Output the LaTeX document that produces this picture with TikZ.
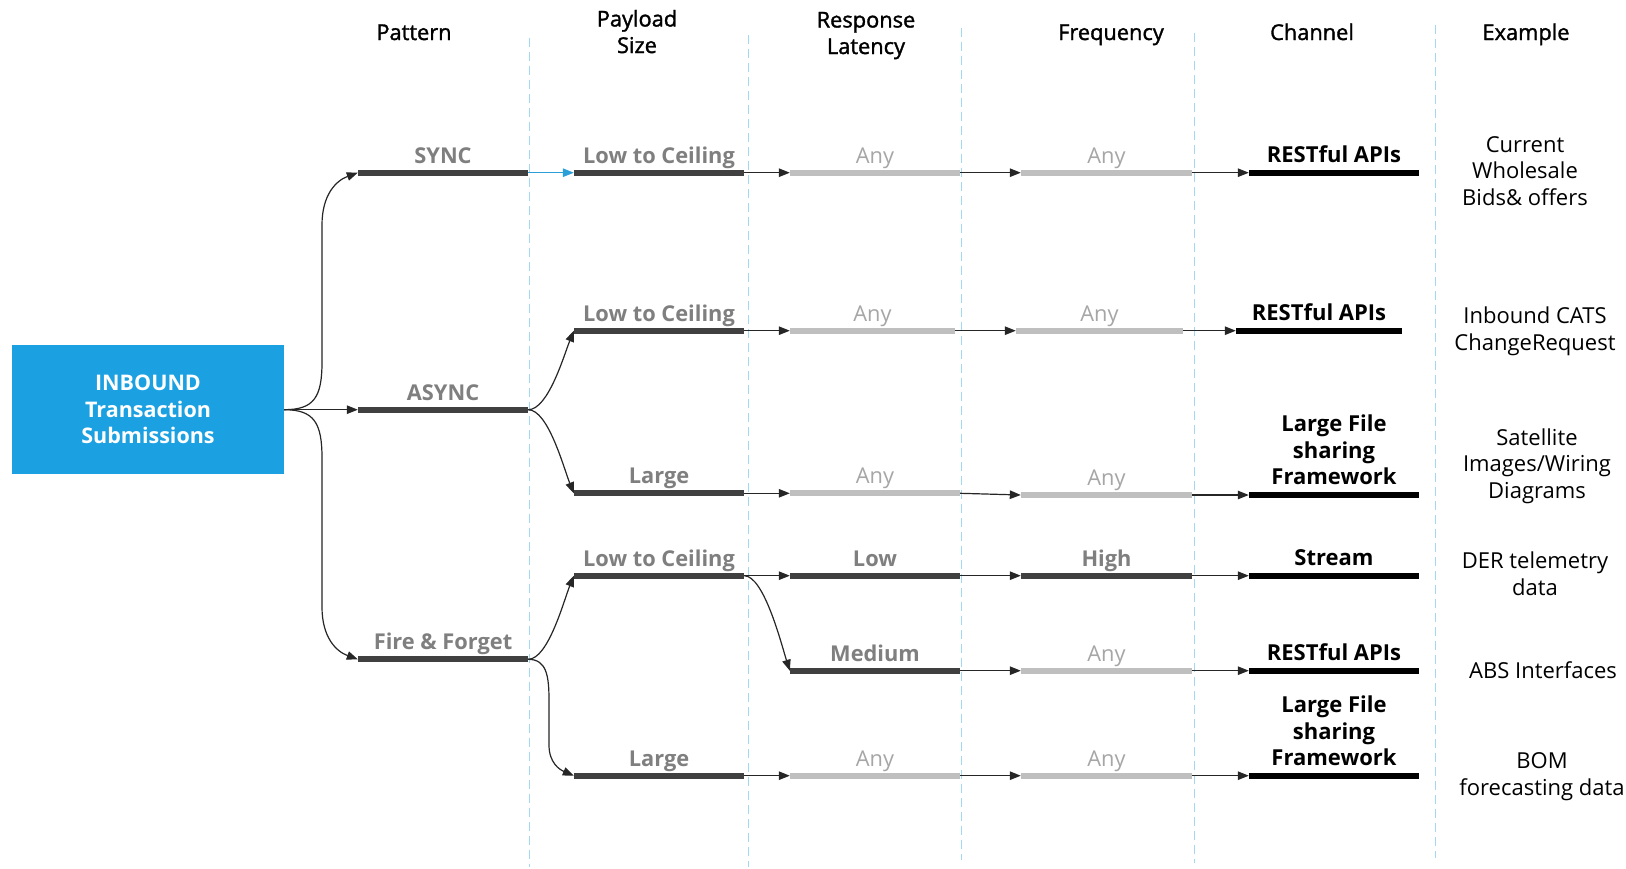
\documentclass[tikz,border=0pt]{standalone}
\usepackage{fontspec}
\setmainfont{Open Sans}
\newfontfamily\hdrfont[FakeBold=1.5]{Open Sans}
\usetikzlibrary{arrows.meta}

\definecolor{tilefill}{HTML}{1BA1E2}
\definecolor{bardark}{HTML}{404040}
\definecolor{barlight}{HTML}{BFBFBF}
\definecolor{labelgray}{HTML}{7F7F7F}
\definecolor{anygray}{HTML}{A6A6A6}
\definecolor{guideblue}{HTML}{A3D8F2}
\definecolor{connector}{HTML}{262626}
\definecolor{syncblue}{HTML}{2A9FD8}

\tikzset{
  bar/.style={rectangle, inner sep=0pt, minimum height=6pt, minimum width=170pt},
  darkbar/.style={bar, fill=bardark},
  lightbar/.style={bar, fill=barlight},
  chanbar/.style={bar, fill=black},
  lbl/.style={anchor=base, inner sep=0pt, font=\fontsize{21.8}{26.5}\selectfont\bfseries, text=labelgray},
  anylbl/.style={anchor=base, inner sep=0pt, font=\fontsize{21.8}{26.5}\selectfont, text=anygray},
  chanlbl/.style={anchor=south, inner sep=0pt, align=center, font=\fontsize{22}{26.5}\selectfont\bfseries},
  exlbl/.style={anchor=base, inner sep=0pt, align=center, font=\fontsize{22}{26.3}\selectfont},
  hdr/.style={anchor=base, inner sep=0pt, align=center, font=\hdrfont\fontsize{21.8}{26.5}\selectfont},
  tile/.style={rectangle, fill=tilefill, inner sep=0pt, minimum width=272pt, minimum height=129pt,
    text=white, align=center, font=\fontsize{21.5}{26.5}\selectfont\bfseries},
  conn/.style={draw=connector, line width=1.2pt, -{Triangle[length=11pt,width=8.5pt]}},
  guide/.style={draw=guideblue, line width=1pt, dash pattern=on 9pt off 5pt},
}

\begin{document}
\begin{tikzpicture}[x=1pt,y=-1pt]
\useasboundingbox (0,0) rectangle (1626,868);
\fill[white] (0,0) rectangle (1626,868);

% column separators
\draw[guide] (529,38) -- (529,867);
\draw[guide] (748,35) -- (748,867);
\draw[guide] (961,28) -- (961,860);
\draw[guide] (1194,33) -- (1194,863);
\draw[guide] (1435,25) -- (1435,858);

% column headings (base anchor sits on the last line)
\node[hdr] (h-pattern) at (414,40) {Pattern};
\node[hdr] (h-payload) at (637,53) {Payload\\Size};
\node[hdr] (h-latency) at (866,54) {Response\\Latency};
\node[hdr] (h-freq) at (1111,40) {Frequency};
\node[hdr] (h-channel) at (1312,40) {Channel};
\node[hdr] (h-example) at (1526,40) {Example};

% source tile
\node[tile] (src) at (148,409.7) {INBOUND\\Transaction\\Submissions};

% pattern column
\node[darkbar] (sync) at (443,172.7) {};
\node[darkbar] (async) at (443,409.7) {};
\node[darkbar] (ff) at (443,659.3) {};
\node[lbl] (t-sync) at ([yshift=6.5pt]sync.north) {SYNC};
\node[lbl] (t-async) at ([yshift=6.5pt]async.north) {ASYNC};
\node[lbl] (t-ff) at ([yshift=6.5pt]ff.north) {Fire \& Forget};

% payload size column
\node[darkbar] (p1) at (659,172.7) {};
\node[darkbar] (p2) at (659,330.7) {};
\node[darkbar] (p3) at (659,493.3) {};
\node[darkbar] (p4) at (659,575.7) {};
\node[darkbar] (p6) at (659,775.7) {};
\node[lbl] (t-p1) at ([yshift=6.5pt]p1.north) {Low to Ceiling};
\node[lbl] (t-p2) at ([yshift=6.5pt]p2.north) {Low to Ceiling};
\node[lbl] (t-p3) at ([yshift=6.5pt]p3.north) {Large};
\node[lbl] (t-p4) at ([yshift=6.5pt]p4.north) {Low to Ceiling};
\node[lbl] (t-p6) at ([yshift=6.5pt]p6.north) {Large};

% response latency column
\node[lightbar] (l1) at (875,172.7) {};
\node[lightbar, minimum width=165pt] (l2) at (872.5,330.7) {};
\node[lightbar] (l3) at (875,493.3) {};
\node[darkbar] (l4) at (875,575.7) {};
\node[darkbar] (l5) at (875,670.7) {};
\node[lightbar] (l6) at (875,775.7) {};
\node[anylbl] (t-l1) at ([yshift=6.5pt]l1.north) {Any};
\node[anylbl] (t-l2) at ([yshift=6.5pt]l2.north) {Any};
\node[anylbl] (t-l3) at ([yshift=6.5pt]l3.north) {Any};
\node[lbl] (t-l4) at ([yshift=6.5pt]l4.north) {Low};
\node[lbl] (t-l5) at ([yshift=6.5pt]l5.north) {Medium};
\node[anylbl] (t-l6) at ([yshift=6.5pt]l6.north) {Any};

% frequency column
\node[lightbar, minimum width=171pt] (f1) at (1106.5,172.7) {};
\node[lightbar, minimum width=167pt] (f2) at (1099.5,330.7) {};
\node[lightbar, minimum width=171pt] (f3) at (1106.5,495) {};
\node[darkbar, minimum width=171pt] (f4) at (1106.5,575.7) {};
\node[lightbar, minimum width=171pt] (f5) at (1106.5,670.7) {};
\node[lightbar, minimum width=171pt] (f6) at (1106.5,775.7) {};
\node[anylbl] (t-f1) at ([yshift=6.5pt]f1.north) {Any};
\node[anylbl] (t-f2) at ([yshift=6.5pt]f2.north) {Any};
\node[anylbl] (t-f3) at ([yshift=6.5pt]f3.north) {Any};
\node[lbl] (t-f4) at ([yshift=6.5pt]f4.north) {High};
\node[anylbl] (t-f5) at ([yshift=6.5pt]f5.north) {Any};
\node[anylbl] (t-f6) at ([yshift=6.5pt]f6.north) {Any};

% channel column
\node[chanbar] (c1) at (1334,172.7) {};
\node[chanbar, minimum width=166pt] (c2) at (1319,330.7) {};
\node[chanbar] (c3) at (1334,495) {};
\node[chanbar] (c4) at (1334,575.7) {};
\node[chanbar] (c5) at (1334,670.7) {};
\node[chanbar] (c6) at (1334,775.7) {};
\node[chanlbl] (t-c1) at ([yshift=6.5pt]c1.north) {RESTful APIs};
\node[chanlbl] (t-c2) at ([yshift=6.5pt]c2.north) {RESTful APIs};
\node[chanlbl] (t-c3) at ([yshift=6.5pt]c3.north) {Large File\\sharing\\Framework};
\node[chanlbl] (t-c4) at ([yshift=6.5pt]c4.north) {Stream};
\node[chanlbl] (t-c5) at ([yshift=6.5pt]c5.north) {RESTful APIs};
\node[chanlbl] (t-c6) at ([yshift=6.5pt]c6.north) {Large File\\sharing\\Framework};

% examples (base anchor sits on the last line)
\node[exlbl] (e1) at (1525,205) {Current\\Wholesale\\Bids\& offers};
\node[exlbl] (e2) at (1535,350) {Inbound CATS\\ChangeRequest};
\node[exlbl] (e3) at (1537,498) {Satellite\\Images/Wiring\\Diagrams};
\node[exlbl] (e4) at (1535,595) {DER telemetry\\data};
\node[exlbl] (e5) at (1543,678) {ABS Interfaces};
\node[exlbl] (e6) at (1542,795) {BOM\\forecasting data};

% source to patterns
\draw[conn] (src.east) .. controls +(30,0) and +(0,35) .. (322,362)
  -- (322,225) .. controls +(0,-30) and +(-22,8) .. (sync.west);
\draw[conn] (src.east) -- (async.west);
\draw[conn] (src.east) .. controls +(30,0) and +(0,-35) .. (322,458)
  -- (322,607) .. controls +(0,30) and +(-22,-8) .. (ff.west);

% patterns to payload sizes
\draw[conn, draw=syncblue, -{Triangle[length=11pt,width=8.5pt,fill=syncblue]}] (sync.east) -- (p1.west);
\draw[conn] (async.east) .. controls +(20,0) and +(-10,25) .. (p2.west);
\draw[conn] (async.east) .. controls +(20,0) and +(-10,-25) .. (p3.west);
\draw[conn] (ff.east) .. controls +(20,0) and +(-10,25) .. (p4.west);
\draw[conn] (ff.east) .. controls +(18,0) and +(0,-25) .. (549,700)
  -- (549,745) .. controls +(0,18) and +(-14,-6) .. (p6.west);

% payload sizes to latency
\draw[conn] (p1.east) -- (l1.west);
\draw[conn] (p2.east) -- (l2.west);
\draw[conn] (p3.east) -- (l3.west);
\draw[conn] (p4.east) -- (l4.west);
\draw[conn] (p4.east) .. controls +(20,0) and +(-8,-25) .. (l5.west);
\draw[conn] (p6.east) -- (l6.west);

% latency to frequency
\draw[conn] (l1.east) -- (f1.west);
\draw[conn] (l2.east) -- (f2.west);
\draw[conn] (l3.east) -- (f3.west);
\draw[conn] (l4.east) -- (f4.west);
\draw[conn] (l5.east) -- (f5.west);
\draw[conn] (l6.east) -- (f6.west);

% frequency to channel
\draw[conn] (f1.east) -- (c1.west);
\draw[conn] (f2.east) -- (c2.west);
\draw[conn] (f3.east) -- (c3.west);
\draw[conn] (f4.east) -- (c4.west);
\draw[conn] (f5.east) -- (c5.west);
\draw[conn] (f6.east) -- (c6.west);
\end{tikzpicture}
\end{document}
